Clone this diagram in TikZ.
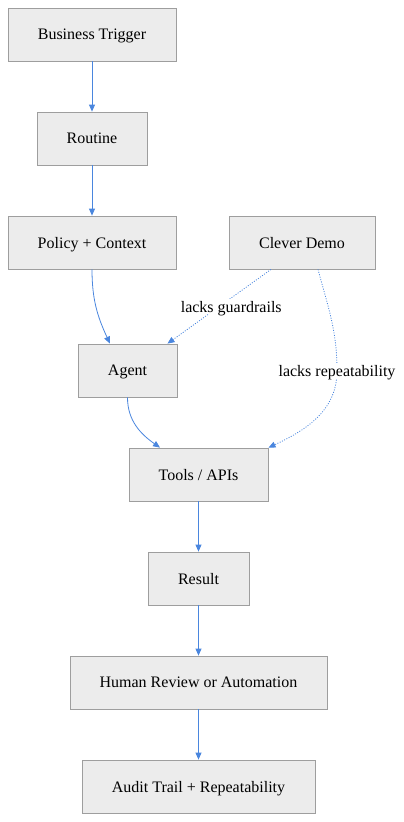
\documentclass[tikz,border=0pt]{standalone}
\usepackage{fontspec}
\setmainfont{Liberation Serif}
\usetikzlibrary{arrows.meta}
\definecolor{flowblue}{RGB}{74,134,222}
\definecolor{boxfill}{RGB}{236,236,236}
\definecolor{boxline}{RGB}{158,158,158}

\begin{document}
\begin{tikzpicture}
	[x=1pt, y=-1pt, font=\fontsize{16}{19}\selectfont,
	main/.style = {draw=boxline, fill=boxfill, line width=0.8pt, minimum height=53pt, inner sep=0pt, text depth=0pt},
	flow/.style = {flowblue, line width=0.8pt, -{Triangle[length=7pt,width=6pt]}},
	weak/.style = {flow, dash pattern=on 1pt off 1.5pt},
	note/.style = {fill=white, text=black, inner sep=2pt, text depth=0pt}]
	\useasboundingbox (0,0) rectangle (404,822);
	\node[main, minimum width=168pt] (trig) at (92,34.5) {Business Trigger};
	\node[main, minimum width=110pt] (rout) at (92,138.5) {Routine};
	\node[main, minimum width=168pt] (pol) at (92,242.5) {Policy + Context};
	\node[main, minimum width=146pt] (demo) at (302,242.5) {Clever Demo};
	\node[main, minimum width=99pt] (agent) at (127.5,370.5) {Agent};
	\node[main, minimum width=139pt] (tools) at (198.5,474.5) {Tools / APIs};
	\node[main, minimum width=101pt] (res) at (198.5,578.5) {Result};
	\node[main, minimum width=257pt] (human) at (198.5,682.5) {Human Review or Automation};
	\node[main, minimum width=233pt] (audit) at (198.5,786.5) {Audit Trail + Repeatability};
	\coordinate (bend) at (337,371);
	\draw[flow] (trig) -- (rout);
	\draw[flow] (rout) -- (pol);
	\draw[flow] (pol.south) to[out=-90, in=115] ([xshift=-17.5pt]agent.north);
	\draw[flow] (agent.south) to[out=-90, in=145] ([xshift=-38.5pt]tools.north);
	\draw[weak] ([xshift=-31pt]demo.south) -- node[note, pos=0.5, xshift=12pt] {lacks guardrails} ([xshift=40pt]agent.north);
	\draw[weak] ([xshift=16pt]demo.south) to[out=-75, in=90] (bend)
		node[note] {lacks repeatability} to[out=-90, in=25] ([xshift=70pt]tools.north);
	\draw[flow] (tools) -- (res);
	\draw[flow] (res) -- (human);
	\draw[flow] (human) -- (audit);
\end{tikzpicture}
\end{document}
